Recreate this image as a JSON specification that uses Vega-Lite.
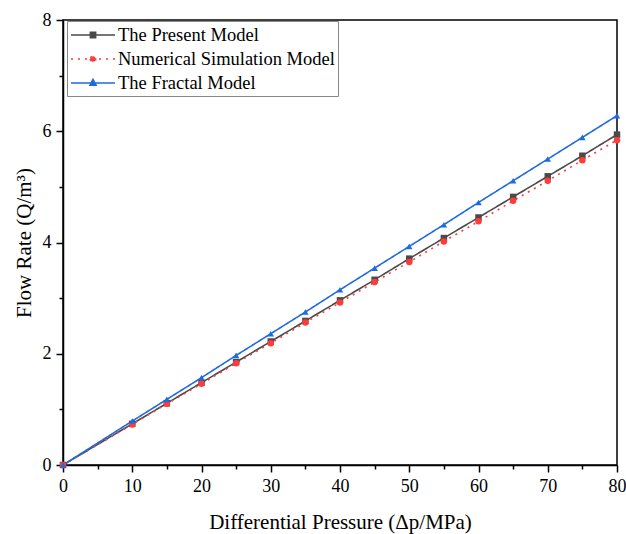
{
  "$schema": "https://vega.github.io/schema/vega-lite/v6.json",
  "autosize": "none",
  "width": 554,
  "height": 445,
  "padding": {"left": 63, "top": 20, "right": 9, "bottom": 69},
  "background": "white",
  "config": {
    "font": "Liberation Serif",
    "view": {"stroke": "black", "strokeWidth": 1.5},
    "axis": {"labelFont": "Liberation Serif", "titleFont": "Liberation Serif", "labelFontSize": 18, "titleFontSize": 21, "labelColor": "black", "titleColor": "black", "titleFontWeight": "normal", "domainColor": "black", "domainWidth": 1.5, "tickColor": "black", "tickWidth": 1.5, "tickSize": 7, "grid": false, "labelFlush": false}
  },
  "resolve": {"axis": {"x": "independent", "y": "independent"}, "scale": {"shape": "independent", "strokeDash": "independent"}},
  "data": {"values": [
    {"p": 0, "q": 0, "s": "The Present Model"},
    {"p": 10, "q": 0.74, "s": "The Present Model"},
    {"p": 15, "q": 1.11, "s": "The Present Model"},
    {"p": 20, "q": 1.48, "s": "The Present Model"},
    {"p": 25, "q": 1.85, "s": "The Present Model"},
    {"p": 30, "q": 2.22, "s": "The Present Model"},
    {"p": 35, "q": 2.59, "s": "The Present Model"},
    {"p": 40, "q": 2.96, "s": "The Present Model"},
    {"p": 45, "q": 3.33, "s": "The Present Model"},
    {"p": 50, "q": 3.71, "s": "The Present Model"},
    {"p": 55, "q": 4.08, "s": "The Present Model"},
    {"p": 60, "q": 4.45, "s": "The Present Model"},
    {"p": 65, "q": 4.82, "s": "The Present Model"},
    {"p": 70, "q": 5.19, "s": "The Present Model"},
    {"p": 75, "q": 5.56, "s": "The Present Model"},
    {"p": 80, "q": 5.94, "s": "The Present Model"},
    {"p": 0, "q": 0, "s": "Numerical Simulation Model"},
    {"p": 10, "q": 0.73, "s": "Numerical Simulation Model"},
    {"p": 15, "q": 1.1, "s": "Numerical Simulation Model"},
    {"p": 20, "q": 1.46, "s": "Numerical Simulation Model"},
    {"p": 25, "q": 1.83, "s": "Numerical Simulation Model"},
    {"p": 30, "q": 2.19, "s": "Numerical Simulation Model"},
    {"p": 35, "q": 2.56, "s": "Numerical Simulation Model"},
    {"p": 40, "q": 2.92, "s": "Numerical Simulation Model"},
    {"p": 45, "q": 3.29, "s": "Numerical Simulation Model"},
    {"p": 50, "q": 3.65, "s": "Numerical Simulation Model"},
    {"p": 55, "q": 4.02, "s": "Numerical Simulation Model"},
    {"p": 60, "q": 4.38, "s": "Numerical Simulation Model"},
    {"p": 65, "q": 4.75, "s": "Numerical Simulation Model"},
    {"p": 70, "q": 5.11, "s": "Numerical Simulation Model"},
    {"p": 75, "q": 5.48, "s": "Numerical Simulation Model"},
    {"p": 80, "q": 5.84, "s": "Numerical Simulation Model"},
    {"p": 0, "q": 0, "s": "The Fractal Model"},
    {"p": 10, "q": 0.79, "s": "The Fractal Model"},
    {"p": 15, "q": 1.18, "s": "The Fractal Model"},
    {"p": 20, "q": 1.57, "s": "The Fractal Model"},
    {"p": 25, "q": 1.97, "s": "The Fractal Model"},
    {"p": 30, "q": 2.36, "s": "The Fractal Model"},
    {"p": 35, "q": 2.75, "s": "The Fractal Model"},
    {"p": 40, "q": 3.15, "s": "The Fractal Model"},
    {"p": 45, "q": 3.54, "s": "The Fractal Model"},
    {"p": 50, "q": 3.93, "s": "The Fractal Model"},
    {"p": 55, "q": 4.32, "s": "The Fractal Model"},
    {"p": 60, "q": 4.72, "s": "The Fractal Model"},
    {"p": 65, "q": 5.11, "s": "The Fractal Model"},
    {"p": 70, "q": 5.5, "s": "The Fractal Model"},
    {"p": 75, "q": 5.89, "s": "The Fractal Model"},
    {"p": 80, "q": 6.28, "s": "The Fractal Model"}
  ]},
  "layer": [
    {
      "mark": {"type": "line", "strokeWidth": 1.6, "clip": false},
      "encoding": {
        "x": {"field": "p", "type": "quantitative", "scale": {"domain": [0, 80], "nice": false}, "axis": {"orient": "bottom", "values": [0, 10, 20, 30, 40, 50, 60, 70, 80], "title": "Differential Pressure (Δp/MPa)", "titlePadding": 16, "labelPadding": 5}},
        "y": {"field": "q", "type": "quantitative", "scale": {"domain": [0, 8], "nice": false}, "axis": {"orient": "left", "values": [0, 2, 4, 6, 8], "title": "Flow Rate (Q/m³)", "titlePadding": 8, "labelPadding": 5}},
        "color": {"field": "s", "type": "nominal", "scale": {"domain": ["The Present Model", "Numerical Simulation Model", "The Fractal Model"], "range": ["#4a4a4a", "#ff3b3b", "#1e6be0"]},
          "legend": {"title": null, "orient": "none", "legendX": 4, "legendY": 1, "labelFontSize": 18.5, "labelFont": "Liberation Serif", "labelColor": "black", "labelLimit": 400, "strokeColor": "#888888", "fillColor": "white", "padding": 3, "symbolSize": 400, "rowPadding": 3, "labelOffset": 26, "symbolType": "M-1,0H3.4",
            "encode": {"symbols": {"update": {
              "shape": {"signal": "datum.value == 'The Present Model' ? 'M-1,0H3.4M0.94,-0.26H1.46V0.26H0.94Z' : datum.value == 'The Fractal Model' ? 'M-1,0H3.4M1.2,-0.36L1.5,0.22H0.9Z' : 'M-1,0H3.4M0.92,0A0.28,0.28 0 1,0 1.48,0A0.28,0.28 0 1,0 0.92,0Z'"},
              "stroke": {"signal": "scale('color', datum.value)"},
              "fill": {"signal": "scale('color', datum.value)"},
              "strokeWidth": {"value": 1.6},
              "strokeDash": {"signal": "datum.value == 'Numerical Simulation Model' ? [2, 5] : [1, 0]"},
              "opacity": {"value": 1}
            }}}}},
        "strokeDash": {"field": "s", "type": "nominal", "scale": {"domain": ["The Present Model", "Numerical Simulation Model", "The Fractal Model"], "range": [[1, 0], [2, 5], [1, 0]]}, "legend": null}
      }
    },
    {
      "mark": {"type": "point", "filled": true, "opacity": 1, "size": 42},
      "encoding": {
        "x": {"field": "p", "type": "quantitative", "axis": {"orient": "bottom", "values": [5, 15, 25, 35, 45, 55, 65, 75], "labels": false, "domain": false, "tickSize": 4, "title": null}},
        "y": {"field": "q", "type": "quantitative", "axis": {"orient": "left", "values": [1, 3, 5, 7], "labels": false, "domain": false, "tickSize": 4, "title": null}},
        "color": {"field": "s", "type": "nominal", "legend": null},
        "shape": {"field": "s", "type": "nominal", "scale": {"domain": ["The Present Model", "Numerical Simulation Model", "The Fractal Model"], "range": ["square", "circle", "triangle-up"]}, "legend": null}
      }
    }
  ]
}
